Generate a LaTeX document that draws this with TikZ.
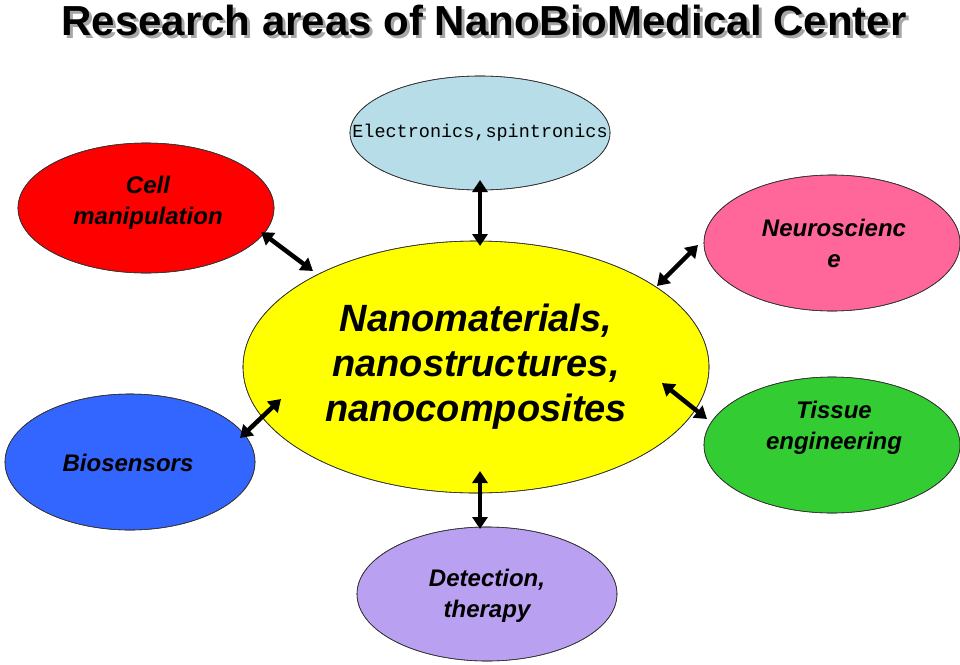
\documentclass[tikz,border=0pt]{standalone}
\usepackage{fontspec}
\setmainfont{Liberation Sans}
\setmonofont{Liberation Mono}
\usetikzlibrary{arrows.meta}
\definecolor{cblue}{HTML}{B7DEE8}
\definecolor{cred}{HTML}{FF0000}
\definecolor{cpink}{HTML}{FF6699}
\definecolor{cyel}{HTML}{FFFF00}
\definecolor{cbio}{HTML}{3366FF}
\definecolor{cgreen}{HTML}{33CC33}
\definecolor{clav}{HTML}{B9A0F0}
\begin{document}
\begin{tikzpicture}[x=1pt,y=-1pt,
  blob/.style={draw=black!80,line width=0.6pt},
  lbl/.style={font=\fontsize{24}{31}\selectfont\bfseries\itshape,align=center},
  dbl/.style={line width=4.5pt,{Triangle[length=12pt,width=15pt]}-{Triangle[length=12pt,width=15pt]}}]
\useasboundingbox (0,0) rectangle (960,664);
\node[font=\fontsize{42}{44}\selectfont\bfseries,text=gray!70] at (487,23) {Research areas of NanoBioMedical Center};
\node (title) [font=\fontsize{42}{44}\selectfont\bfseries] at (484,20) {Research areas of NanoBioMedical Center};
\fill[blob,fill=cblue] (480,133) ellipse [x radius=130,y radius=57];
\fill[blob,fill=cred] (146,208) ellipse [x radius=128,y radius=65];
\fill[blob,fill=cpink] (832,243) ellipse [x radius=128,y radius=68];
\fill[blob,fill=cyel] (476,367) ellipse [x radius=233,y radius=126];
\fill[blob,fill=cbio] (130,462) ellipse [x radius=125,y radius=68];
\fill[blob,fill=cgreen] (832,445) ellipse [x radius=128,y radius=68];
\fill[blob,fill=clav] (487,594) ellipse [x radius=130,y radius=67];
\draw[blob] (480,133) ellipse [x radius=130,y radius=57];
\draw[blob] (146,208) ellipse [x radius=128,y radius=65];
\draw[blob] (832,243) ellipse [x radius=128,y radius=68];
\draw[blob] (476,367) ellipse [x radius=233,y radius=126];
\draw[blob] (130,462) ellipse [x radius=125,y radius=68];
\draw[blob] (832,445) ellipse [x radius=128,y radius=68];
\draw[blob] (487,594) ellipse [x radius=130,y radius=67];
\node (el) [font=\fontsize{18.5}{20}\selectfont\ttfamily] at (480,133) {Electronics,spintronics};
\node (cm) [lbl] at (148,203) {Cell\\manipulation};
\node (ne) [lbl] at (834,243) {Neuroscienc\\e};
\node (na) [font=\fontsize{38}{45}\selectfont\bfseries\itshape,align=center] at (476,367) {Nanomaterials,\\nanostructures,\\nanocomposites};
\node (bi) [lbl] at (128,463) {Biosensors};
\node (ti) [lbl] at (834,428) {Tissue\\engineering};
\node (de) [lbl] at (487,596) {Detection,\\therapy};
\coordinate (a1) at (480,180); \coordinate (a2) at (480,246);
\coordinate (b1) at (261,232); \coordinate (b2) at (313,271);
\coordinate (c1) at (657,286); \coordinate (c2) at (698,245);
\coordinate (d1) at (240,438); \coordinate (d2) at (281,399);
\coordinate (e1) at (662,383); \coordinate (e2) at (707,419);
\coordinate (f1) at (480,471); \coordinate (f2) at (480,529);
\draw[dbl] (a1) -- (a2);
\draw[dbl] (b1) -- (b2);
\draw[dbl] (c1) -- (c2);
\draw[dbl] (d1) -- (d2);
\draw[dbl] (e1) -- (e2);
\draw[dbl] (f1) -- (f2);
\end{tikzpicture}
\end{document}
